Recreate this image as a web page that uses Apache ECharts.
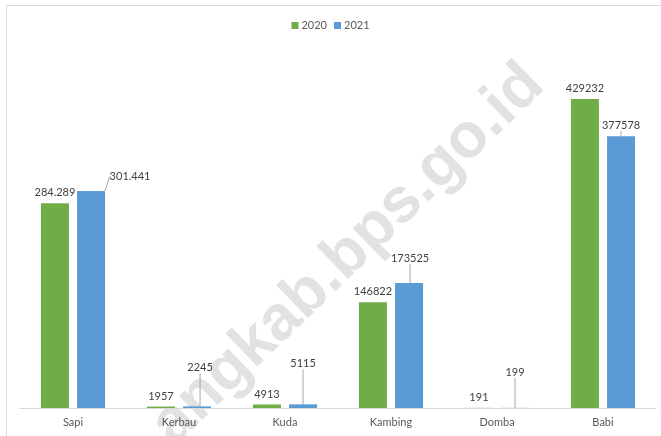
<!DOCTYPE html>
<html>
<head>
<meta charset="utf-8">
<script src="https://cdn.jsdelivr.net/npm/echarts@6/dist/echarts.min.js"></script>
<style>
  html, body { margin: 0; padding: 0; background: #fff; }
  #chart { width: 661px; height: 436px; }
</style>
</head>
<body>
<div id="chart"></div>
<script>
// ternak per jenis, 2020 vs 2021
const categories = ['Sapi', 'Kerbau', 'Kuda', 'Kambing', 'Domba', 'Babi'];
const values2020 = [284289, 1957, 4913, 146822, 191, 429232];
const values2021 = [301441, 2245, 5115, 173525, 199, 377578];
// label text as printed on the chart (Sapi uses dot separators)
const labels2020 = ['284.289', '1957', '4913', '146822', '191', '429232'];
const labels2021 = ['301.441', '2245', '5115', '173525', '199', '377578'];

// where the 2021 labels were dragged to (px, relative to default spot)
const moved2021 = [[39, -4], [3, -28], [0, -30], [1, -14], [0, -25], [0, 0]];

const font = 'Lato';
const chart = echarts.init(document.getElementById('chart'), null, { renderer: 'canvas' });

const labelStyle = { show: true, position: 'top', distance: 5, color: '#404040', fontSize: 11, fontFamily: font };

chart.setOption({
  animation: false,
  backgroundColor: '#fff',
  textStyle: { fontFamily: font },
  legend: {
    top: 15,
    left: 'center',
    itemWidth: 7,
    itemHeight: 7,
    itemGap: 7,
    icon: 'rect',
    textStyle: { color: '#595959', fontSize: 11, fontFamily: font, padding: [0, 0, 0, -2] },
    data: ['2020', '2021']
  },
  grid: { left: 20, right: 5, top: 48, bottom: 28, containLabel: false },
  xAxis: {
    type: 'category',
    data: categories,
    axisLine: { lineStyle: { color: '#d9d9d9', width: 1 } },
    axisTick: { show: false },
    axisLabel: { color: '#595959', fontSize: 11, fontFamily: font, margin: 9 }
  },
  yAxis: {
    type: 'value',
    min: 0,
    max: 500000,
    show: false,
    splitLine: { show: false }
  },
  graphic: [
    {
      type: 'rect',
      z: -10,
      silent: true,
      shape: { x: 6.5, y: 5.5, width: 700, height: 500 },
      style: { fill: 'none', stroke: '#d9d9d9', lineWidth: 1 }
    },
    {
      type: 'text',
      z: -5,
      silent: true,
      x: 348,
      y: 255,
      rotation: 44 * Math.PI / 180,
      style: {
        text: 'angkab.bps.go.id',
        fill: '#e2e2e2',
        font: 'bold 63px "Liberation Sans"',
        textAlign: 'center',
        textVerticalAlign: 'middle'
      }
    }
  ],
  series: [
    {
      name: '2020',
      type: 'bar',
      data: values2020,
      barWidth: 28,
      barGap: '29%',
      itemStyle: { color: '#70ad47' },
      label: Object.assign({}, labelStyle, {
        formatter: p => labels2020[p.dataIndex]
      })
    },
    {
      name: '2021',
      type: 'bar',
      data: values2021,
      barWidth: 28,
      itemStyle: { color: '#5b9bd5' },
      label: Object.assign({}, labelStyle, {
        formatter: p => labels2021[p.dataIndex]
      }),
      labelLine: { show: true, lineStyle: { color: '#a6a6a6', width: 1 } },
      labelLayout: p => {
        const m = moved2021[p.dataIndex];
        return { dx: m[0], dy: m[1] };
      }
    }
  ]
});
</script>
</body>
</html>
